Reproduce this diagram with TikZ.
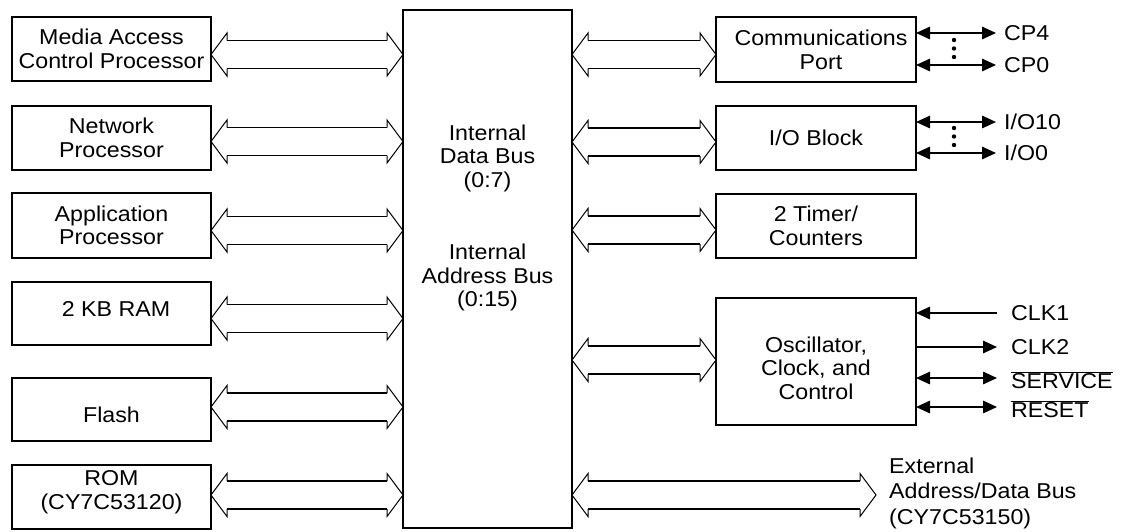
\documentclass[tikz,border=0pt]{standalone}
\usepackage{fontspec}
\setmainfont[FakeStretch=1.08]{Liberation Sans}
\usetikzlibrary{arrows.meta}
\newcommand\lbl{\fontsize{21.5}{23.5}\selectfont}
\newcommand\ovl[1]{$\overline{\mbox{#1}}$}
\newcommand\bus[3]{%
  \coordinate (bl) at (#1 |- 0,#3);
  \coordinate (br) at (#2 |- 0,#3);
  \draw[busshaft] ([shift={(16,-14)}]bl) -- ([shift={(-16,-14)}]br)
                  ([shift={(16,14)}]bl) -- ([shift={(-16,14)}]br);
  \draw[bushead] ([shift={(16,-14)}]bl) -- ([shift={(16,-21.5)}]bl) -- (bl)
                 -- ([shift={(16,21.5)}]bl) -- ([shift={(16,14)}]bl);
  \draw[bushead] ([shift={(-16,-14)}]br) -- ([shift={(-16,-21.5)}]br) -- (br)
                 -- ([shift={(-16,21.5)}]br) -- ([shift={(-16,14)}]br);
}
\tikzset{
  box/.style={draw, line width=1.8pt, inner sep=0pt, outer sep=0pt, align=center, font=\lbl},
  txt/.style={inner sep=0pt, outer sep=0pt, align=center, font=\lbl},
  sigl/.style={inner sep=0pt, anchor=west, font=\lbl},
  busshaft/.style={line width=1.8pt},
  bushead/.style={line width=1pt, line join=miter},
  sigboth/.style={line width=1.5pt, {Triangle[length=14pt,width=12.5pt]}-{Triangle[length=14pt,width=12.5pt]}},
  sigout/.style={line width=1.5pt, -{Triangle[length=14pt,width=12.5pt]}},
  dotmark/.style={fill=black},
}
\begin{document}
\begin{tikzpicture}[x=1pt,y=-1pt]
\fill[white] (0,0) rectangle (1123,531);
\useasboundingbox (0,0) rectangle (1123,531);

% left column
\node[box, minimum width=199pt, minimum height=64pt] (mac) at (111.5,49) {Media Access\\Control Processor};
\node[box, minimum width=199pt, minimum height=64pt] (net) at (111.5,138) {Network\\Processor};
\node[box, minimum width=199pt, minimum height=65pt] (app) at (111.5,225.5) {Application\\Processor};
\node[box, minimum width=199pt, minimum height=63pt] (ram) at (111.5,313.5) {};
\node[txt] (ramt) at (116,308.5) {2 KB RAM};
\node[box, minimum width=199pt, minimum height=63pt] (flash) at (111.5,409.5) {};
\node[txt] (flasht) at (111.5,414.5) {Flash};
\node[box, minimum width=199pt, minimum height=64pt] (rom) at (111.5,497) {};
\node[txt] (romt) at (111.5,492) {ROM\\(CY7C53120)};

% central bus block
\node[box, minimum width=169pt, minimum height=518pt] (cpu) at (487.5,269) {};
\node[txt] (dbus) at (487.5,158) {Internal\\Data Bus\\(0:7)};
\node[txt] (abus) at (487.5,277.5) {Internal\\Address Bus\\(0:15)};

% right column
\node[box, minimum width=200pt, minimum height=65pt] (comm) at (816,49.5) {};
\node[txt] (commt) at (821,50) {Communications\\Port};
\node[box, minimum width=200pt, minimum height=64pt] (io) at (816,138) {I/O Block};
\node[box, minimum width=200pt, minimum height=64pt] (timer) at (816,226) {2 Timer/\\Counters};
\node[box, minimum width=200pt, minimum height=127pt] (osc) at (816,361.5) {};
\node[txt] (osct) at (816,368) {Oscillator,\\Clock, and\\Control};

% bus arrows, left
\bus{mac.east}{cpu.west}{54.5}
\bus{net.east}{cpu.west}{141.5}
\bus{app.east}{cpu.west}{230.5}
\bus{ram.east}{cpu.west}{318.5}
\bus{flash.east}{cpu.west}{407}
\bus{rom.east}{cpu.west}{495}

% bus arrows, right
\bus{cpu.east}{comm.west}{54.5}
\bus{cpu.east}{io.west}{142}
\bus{cpu.east}{timer.west}{230}
\bus{cpu.east}{osc.west}{360}
\coordinate (extend) at (876,495);
\bus{cpu.east}{extend}{495}
\node[sigl, align=left, font=\fontsize{21.5}{25.5}\selectfont] (extl) at (889,493) {External\\Address/Data Bus\\(CY7C53150)};

% communications port signals
\coordinate (cp4) at (996,33);
\coordinate (cp0) at (996,65);
\draw[sigboth] (comm.east |- cp4) -- (cp4);
\draw[sigboth] (comm.east |- cp0) -- (cp0);
\node[sigl] (cp4l) at (1004,33) {CP4};
\node[sigl] (cp0l) at (1004,65) {CP0};
\foreach \yy in {40,48.5,57} \fill[dotmark] (954,\yy) circle[radius=2.2pt];

% I/O signals
\coordinate (io10) at (996,122);
\coordinate (io0) at (996,153);
\draw[sigboth] (io.east |- io10) -- (io10);
\draw[sigboth] (io.east |- io0) -- (io0);
\node[sigl] (io10l) at (1004,122) {I/O10};
\node[sigl] (io0l) at (1004,153) {I/O0};
\foreach \yy in {128,136.5,145} \fill[dotmark] (954,\yy) circle[radius=2.2pt];

% oscillator signals
\coordinate (clk1) at (997,313);
\coordinate (clk2) at (997,347);
\coordinate (serv) at (997,378);
\coordinate (rst) at (997,407);
\draw[sigout] (clk1) -- (osc.east |- clk1);
\draw[sigout] (osc.east |- clk2) -- (clk2);
\draw[sigboth] (osc.east |- serv) -- (serv);
\draw[sigboth] (osc.east |- rst) -- (rst);
\node[sigl] (clk1l) at (1011,313) {CLK1};
\node[sigl] (clk2l) at (1011,347) {CLK2};
\node[sigl] (servl) at (1011,380) {\ovl{SERVICE}};
\node[sigl] (rstl) at (1011,409) {\ovl{RESET}};
\end{tikzpicture}
\end{document}
